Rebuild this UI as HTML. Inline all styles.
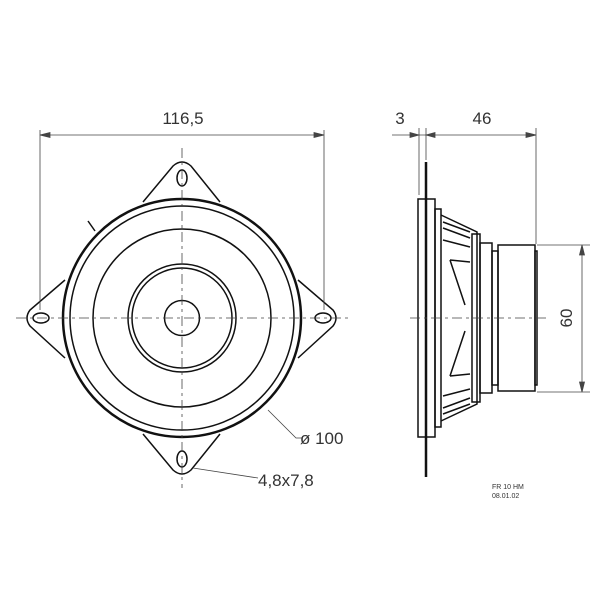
<!DOCTYPE html>
<html><head><meta charset="utf-8"><style>body{margin:0;background:#fff}svg{display:block}</style></head><body>
<svg width="600" height="600" viewBox="0 0 600 600" xmlns="http://www.w3.org/2000/svg" font-family="Liberation Sans, sans-serif">
<g fill="none" stroke="#111" stroke-width="1.5">
<!-- tabs -->
<path d="M143,202 L173,166 Q182,158 191,166 L220,202"/>
<path d="M143,434 L173,470 Q182,478 191,470 L220,434"/>
<path d="M65,280 L30,310 Q24,318 30,326 L65,358"/>
<path d="M298,280 L333,310 Q339,318 333,326 L298,358"/>
<ellipse cx="182" cy="178" rx="5" ry="8"/>
<ellipse cx="182" cy="459" rx="5" ry="8"/>
<ellipse cx="41" cy="318" rx="8" ry="5"/>
<ellipse cx="323" cy="318" rx="8" ry="5"/>
<circle cx="182" cy="318" r="119" stroke-width="2.5"/>
<circle cx="182" cy="318" r="112"/>
<circle cx="182" cy="318" r="89"/>
<circle cx="182" cy="318" r="54"/>
<circle cx="182" cy="318" r="50"/>
<circle cx="182" cy="318" r="17.5"/>
<line x1="88" y1="221" x2="95" y2="231"/>
</g>
<g stroke="#444" stroke-width="0.8" fill="none">
<line x1="40" y1="130" x2="40" y2="310"/><line x1="324" y1="130" x2="324" y2="310"/>
<line x1="40" y1="135" x2="324" y2="135"/>
<path d="M40,135 l10,-2.5 v5z M324,135 l-10,-2.5 v5z" fill="#444"/>
<line x1="16" y1="318" x2="350" y2="318" stroke-dasharray="10,4,3,4"/>
<line x1="182" y1="148" x2="182" y2="488" stroke-dasharray="10,4,3,4"/>
<polyline points="268,410 296,438 302,438"/>
<polyline points="193,468 258,478"/>
</g>
<g fill="#333" font-size="17">
<text x="183" y="124" text-anchor="middle">116,5</text>
<text x="300" y="444">ø 100</text>
<text x="258" y="486">4,8x7,8</text>
<text x="400" y="124" text-anchor="middle">3</text>
<text x="482" y="124" text-anchor="middle">46</text>
<text transform="translate(572,318) rotate(-90)" text-anchor="middle">60</text>
<text x="492" y="489" font-size="7">FR 10 HM</text>
<text x="492" y="498" font-size="7">08.01.02</text>
</g>
<!-- side view -->
<g fill="none" stroke="#111" stroke-width="1.5">
<line x1="426" y1="162" x2="426" y2="477" stroke-width="2.5"/>
<rect x="418" y="199" width="17" height="238"/>
<rect x="435" y="209" width="6" height="218"/>
<path d="M441,215 L477,232 L477,404 L441,421"/>
<path d="M443,222 L470,232 M443,228 L470,238 M443,240 L470,247 M443,396 L470,389 M443,408 L470,398 M443,414 L470,404"/>
<path d="M450,260 L465,305 M450,376 L465,331 M450,260 L470,262 M450,376 L470,374"/>
<rect x="472" y="234" width="8" height="168"/>
<rect x="480" y="243" width="12" height="150"/>
<rect x="492" y="251" width="6" height="134"/>
<rect x="498" y="245" width="37" height="146"/>
<rect x="535" y="251" width="2" height="134"/>
</g>
<g stroke="#444" stroke-width="0.8" fill="none">
<line x1="419" y1="128" x2="419" y2="195"/><line x1="426" y1="128" x2="426" y2="160"/>
<line x1="536" y1="128" x2="536" y2="244"/>
<line x1="392" y1="135" x2="536" y2="135"/>
<path d="M419,135 l-9,-2.5 v5z M426,135 l9,-2.5 v5z M536,135 l-10,-2.5 v5z" fill="#444"/>
<line x1="537" y1="245" x2="590" y2="245"/><line x1="537" y1="392" x2="590" y2="392"/>
<line x1="582" y1="245" x2="582" y2="392"/>
<path d="M582,245 l-2.5,10 h5z M582,392 l-2.5,-10 h5z" fill="#444"/>
<line x1="410" y1="318" x2="550" y2="318" stroke-dasharray="10,4,3,4"/>
</g>
</svg>
</body></html>
